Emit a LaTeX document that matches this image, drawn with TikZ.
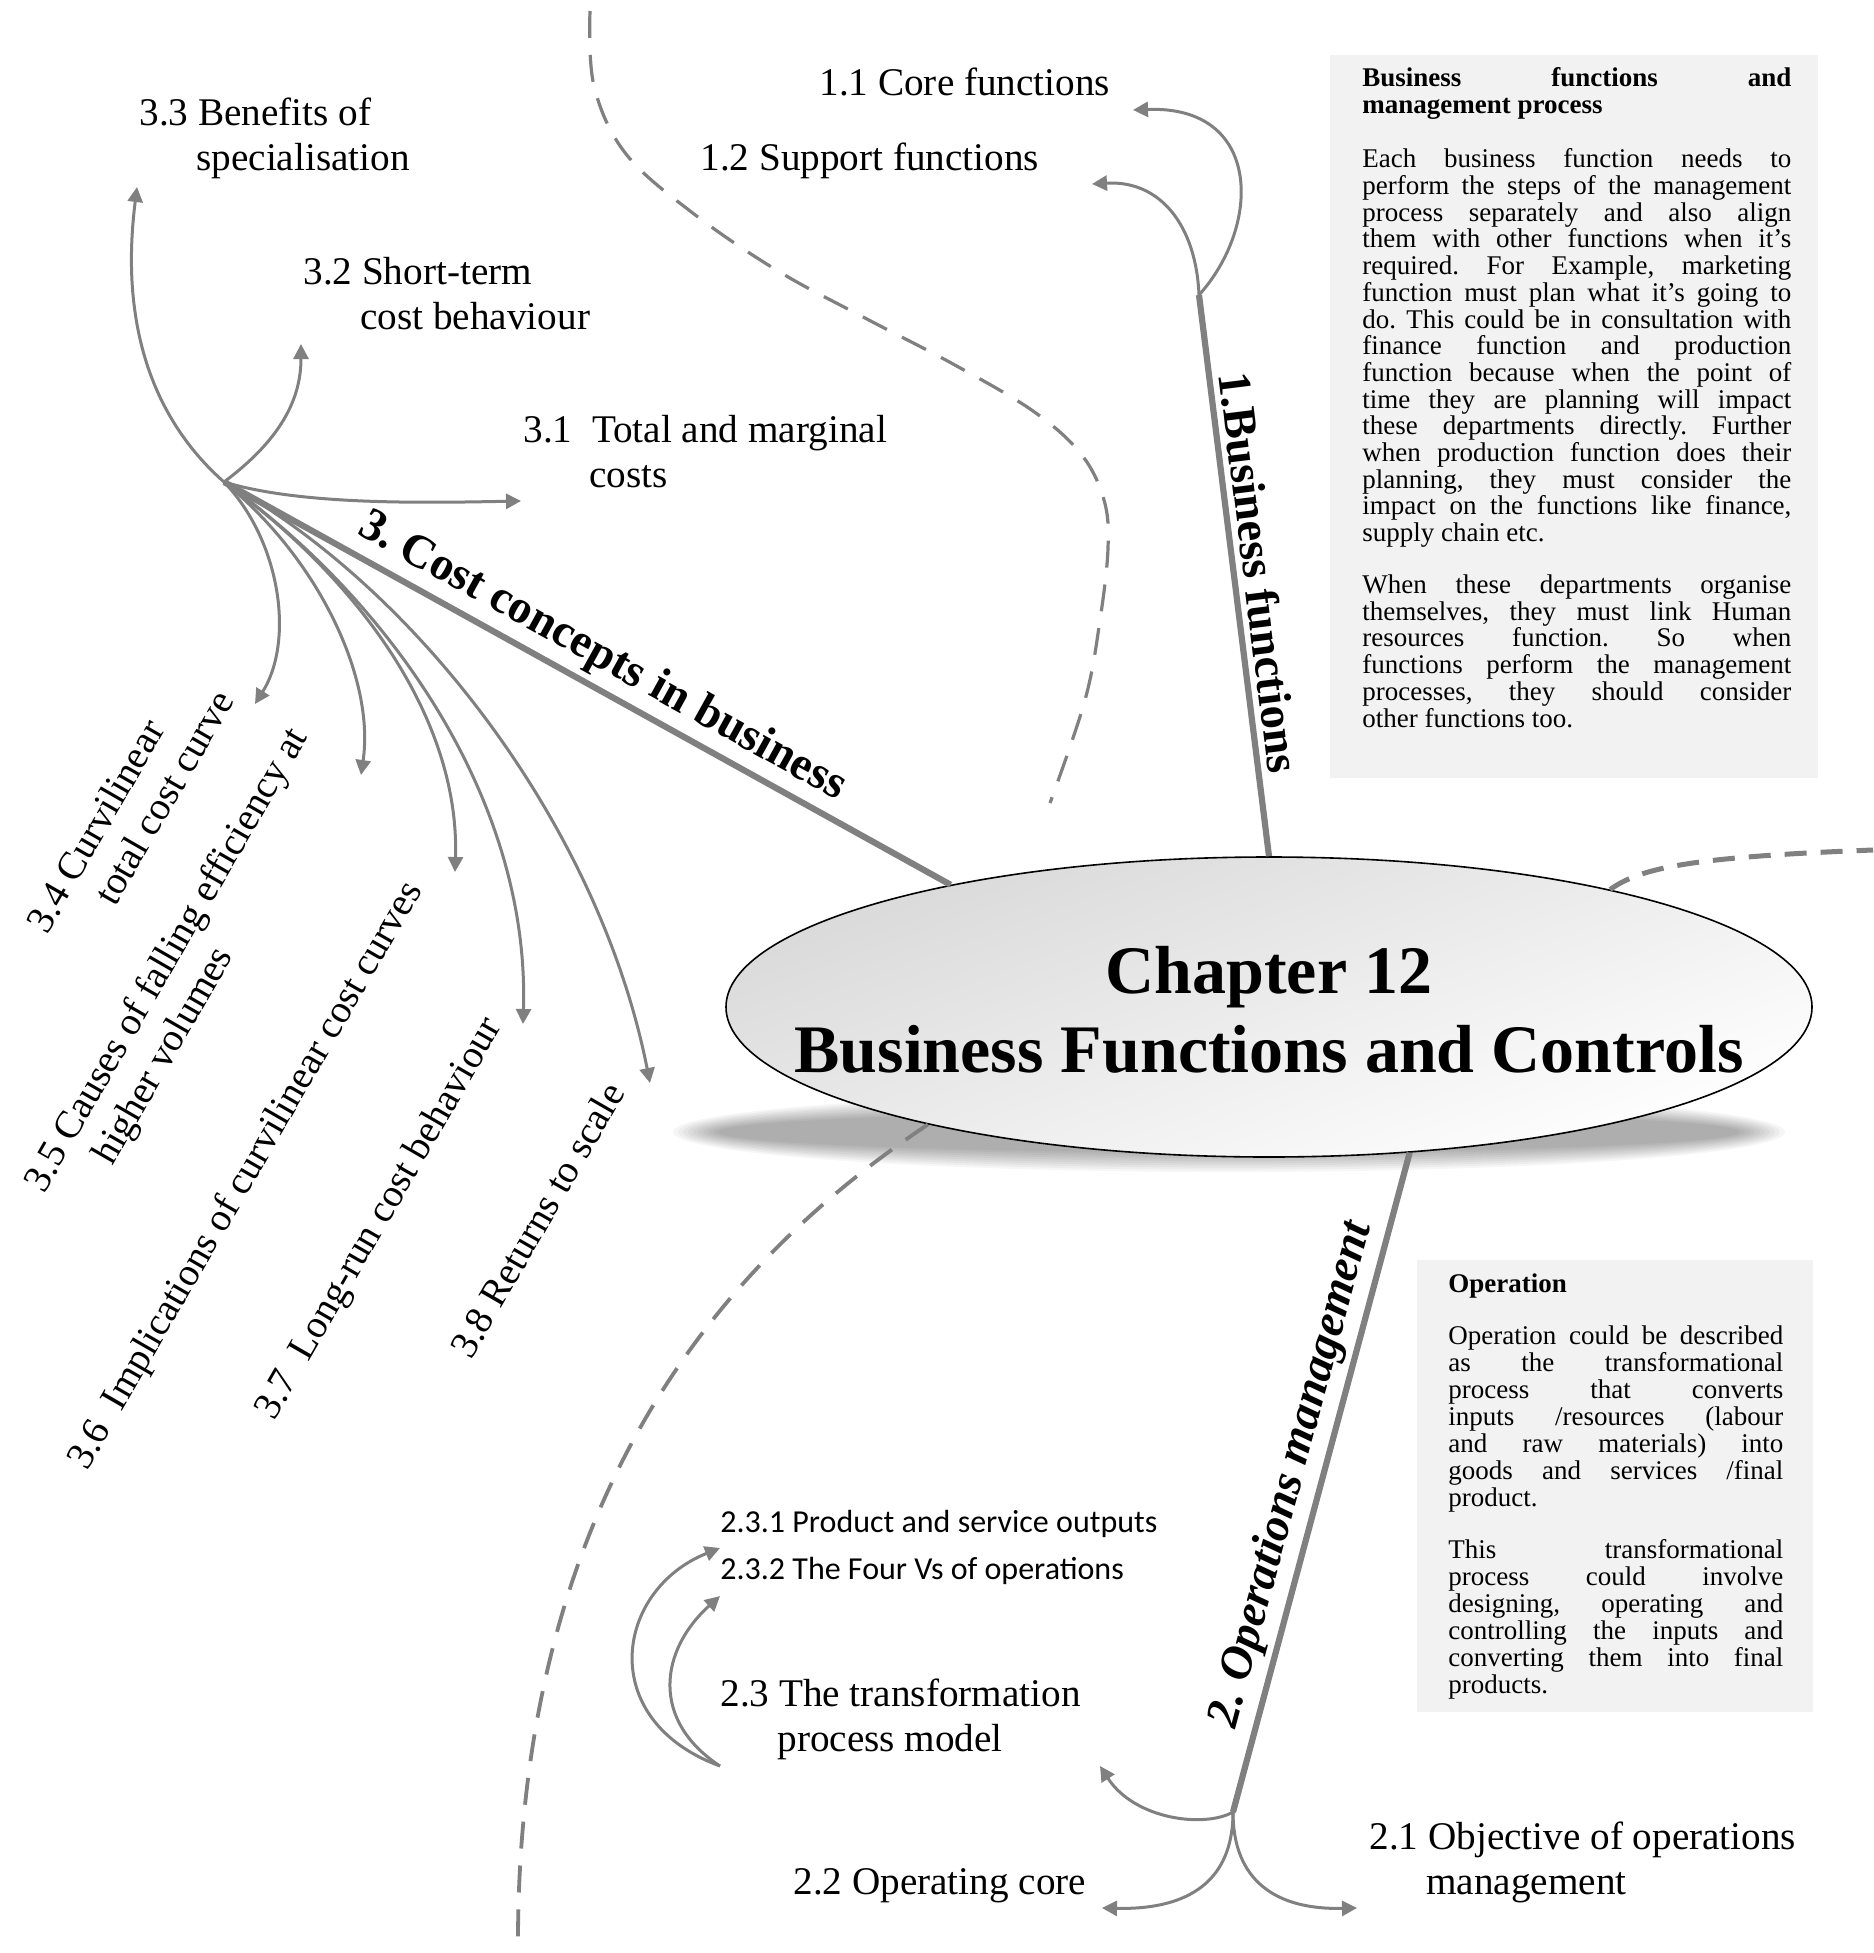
\documentclass[tikz,border=0pt]{standalone}
\usepackage{fontspec}
\setmainfont{Liberation Serif}
\newfontfamily\calfont{Carlito}
\usetikzlibrary{arrows.meta,shapes.geometric}
\definecolor{branch}{HTML}{808080}
\definecolor{panel}{HTML}{F2F2F2}
\frenchspacing
% justified lines of fixed width for the two note panels
\newcommand{\ja}[1]{\makebox[214.5pt][s]{#1}}
\newcommand{\jb}[1]{\makebox[167.5pt][s]{#1}}
\begin{document}
\begin{tikzpicture}[x=0.5pt,y=-0.5pt,
  lbl/.style={anchor=base west,inner sep=0pt,align=left,font=\fontsize{19.6}{22.5}\selectfont},
  sublbl/.style={anchor=base west,inner sep=0pt,font=\calfont\fontsize{16}{19}\selectfont},
  twig/.style={draw=branch,line width=1.5pt,-{Triangle[length=7.5pt,width=7.5pt]}},
  trunk/.style={draw=branch,line width=3.1pt},
  trunklbl/.style={sloped,above,inner sep=3pt,font=\bfseries\fontsize{23.4}{26}\selectfont},
  trail/.style={draw=branch,line width=1.6pt,dash pattern=on 13.5pt off 8.5pt},
  paneltext/.style={anchor=north west,inner sep=0pt,align=left}
]
\fill[white] (0,0) rectangle (1873,1953);
\useasboundingbox (0,0) rectangle (1873,1953);

% note panels
\fill[panel] (1330,55) rectangle (1818,778);
\fill[panel] (1417,1260) rectangle (1813,1712);

% dashed trail behind everything
\draw[trail] plot[smooth,tension=0.6] coordinates {(590,11) (594,86) (626,154) (694,214) (778,271) (865,318) (953,364) (1033,411) (1081,454) (1104,500) (1108,548) (1100,620) (1085,700) (1050,803)};

% soft shadow under the central ellipse
\foreach \k in {0,...,9}
  \fill[black,opacity=0.035] (1229,1132) ellipse [x radius={556-5*\k}, y radius={40-2.2*\k}];

% central topic
\node[draw=black,line width=0.8pt,ellipse,minimum width=543pt,minimum height=150pt,inner sep=0pt,
      top color=black!15,bottom color=white,shading angle=20] (core) at (1269,1007) {};
\node[font=\bfseries\fontsize{34}{39.5}\selectfont,align=center] (title) at (1269,1010)
  {Chapter 12\\Business Functions and Controls};

\draw[trail,line width=2.5pt,dash pattern=on 11pt off 7pt] (core.19) .. controls (1640,868) and (1690,857) .. (1873,850);
\draw[trail,line width=1.9pt] (core.199) .. controls (740,1250) and (515,1480) .. (518,1953);

% hubs
\coordinate (h1) at (1199,295);
\coordinate (h2) at (1233,1812);
\coordinate (h3) at (224,482);

% main branches
\draw[trunk] (h1) -- node[trunklbl] (b1) {1.Business functions} (core.90.4);
\draw[trunk] (h3) -- node[trunklbl] (b3) {3. Cost concepts in business} (core.159.5);
\draw[trunk] (h2) -- node[trunklbl,font=\bfseries\itshape\fontsize{23.4}{26}\selectfont] (b2) {2. Operations management} (core.-46.6);

% sub-topic labels (two-line labels are placed by the baseline of their last line)
\node[lbl] (l11) at (819,96) {1.1 Core functions};
\node[lbl] (l12) at (700,171) {1.2 Support functions};
\node[lbl] (l33) at (139,171) {3.3 Benefits of\\\hspace*{28.5pt}specialisation};
\node[lbl] (l32) at (303,329) {3.2 Short-term\\\hspace*{28.5pt}cost behaviour};
\node[lbl] (l31) at (523,487) {3.1\ \ Total and marginal\\\hspace*{33pt}costs};
\node[lbl,rotate=60] (l34) at (86,958) {3.4 Curvilinear\\\hspace*{29pt}total cost curve};
\node[lbl,rotate=60] (l35) at (83,1217) {3.5 Causes of falling efficiency at\\\hspace*{29pt}higher volumes};
\node[lbl,rotate=60] (l36) at (87,1472) {3.6\ \ Implications of curvilinear cost curves};
\node[lbl,rotate=60] (l37) at (274,1422) {3.7\ \ Long-run cost behaviour};
\node[lbl,rotate=60] (l38) at (471,1361) {3.8 Returns to scale};
\node[lbl] (l23) at (720,1751) {2.3 The transformation\\\hspace*{28.5pt}process model};
\node[lbl] (l22) at (793,1894) {2.2 Operating core};
\node[lbl] (l21) at (1369,1894) {2.1 Objective of operations\\\hspace*{28.5pt}management};
\node[sublbl] (l231) at (720,1532) {2.3.1 Product and service outputs};
\node[sublbl] (l232) at (720,1579) {2.3.2 The Four Vs of operations};

% arrow end points
\coordinate (t11) at (1133,110);
\coordinate (t12) at (1092,184);
\coordinate (t33) at (137,187);
\coordinate (t32) at (301,344);
\coordinate (t31) at (521,501);
\coordinate (t34) at (255,704);
\coordinate (t35) at (361,775);
\coordinate (t36) at (455,872);
\coordinate (t37) at (523,1024);
\coordinate (t38) at (650,1083);
\coordinate (t23) at (1100,1766);
\coordinate (t22) at (1102,1908);
\coordinate (t21) at (1357,1908);
\coordinate (c23) at (720,1766);
\coordinate (t231) at (720,1548);
\coordinate (t232) at (720,1596);

% branch 1 arrows
\draw[twig] (h1) .. controls (1262,225) and (1262,105) .. (t11);
\draw[twig] (h1) .. controls (1196,225) and (1160,180) .. (t12);

% branch 3 arrows
\draw[twig] (h3) .. controls (120,390) and (128,260) .. (t33);
\draw[twig] (h3) .. controls (280,440) and (301,400) .. (t32);
\draw[twig] (h3) .. controls (300,505) and (420,503) .. (t31);
\draw[twig] (h3) .. controls (280,540) and (295,640) .. (t34);
\draw[twig] (h3) .. controls (320,560) and (375,680) .. (t35);
\draw[twig] (h3) .. controls (360,580) and (460,720) .. (t36);
\draw[twig] (h3) .. controls (390,600) and (530,800) .. (t37);
\draw[twig] (h3) .. controls (420,590) and (600,830) .. (t38);

% branch 2 arrows
\draw[twig] (h2) .. controls (1205,1828) and (1135,1820) .. (t23);
\draw[twig] (h2) .. controls (1233,1880) and (1190,1910) .. (t22);
\draw[twig] (h2) .. controls (1233,1880) and (1275,1910) .. (t21);
\draw[twig] (c23) .. controls (595,1720) and (615,1590) .. (t231);
\draw[twig] (c23) .. controls (650,1720) and (660,1650) .. (t232);

% note texts
\node[paneltext,font=\fontsize{13.5}{13.35}\selectfont] (note1) at (1362,67) {%
{\bfseries\ja{Business functions and}}\\
{\bfseries management process}\\[14pt]
\ja{Each business function needs to}\\
\ja{perform the steps of the management}\\
\ja{process separately and also align}\\
\ja{them with other functions when it’s}\\
\ja{required. For Example, marketing}\\
\ja{function must plan what it’s going to}\\
\ja{do. This could be in consultation with}\\
\ja{finance function and production}\\
\ja{function because when the point of}\\
\ja{time they are planning will impact}\\
\ja{these departments directly. Further}\\
\ja{when production function does their}\\
\ja{planning, they must consider the}\\
\ja{impact on the functions like finance,}\\
supply chain etc.\\[12.6pt]
\ja{When these departments organise}\\
\ja{themselves, they must link Human}\\
\ja{resources function. So when}\\
\ja{functions perform the management}\\
\ja{processes, they should consider}\\
other functions too.};

\node[paneltext,font=\fontsize{13.5}{13.5}\selectfont] (note2) at (1448,1273) {%
{\bfseries Operation}\\[12.5pt]
\jb{Operation could be described}\\
\jb{as the transformational}\\
\jb{process that converts}\\
\jb{inputs /resources (labour}\\
\jb{and raw materials) into}\\
\jb{goods and services /final}\\
product.\\[12.5pt]
\jb{This transformational}\\
\jb{process could involve}\\
\jb{designing, operating and}\\
\jb{controlling the inputs and}\\
\jb{converting them into final}\\
products.};
\end{tikzpicture}
\end{document}
